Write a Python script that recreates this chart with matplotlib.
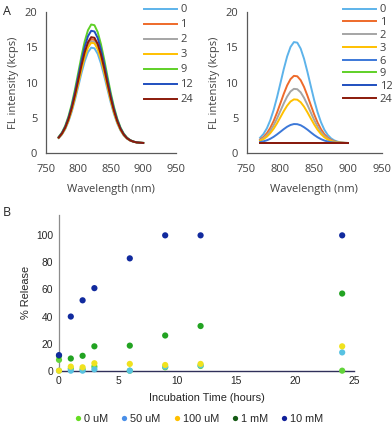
# Fluorescence spectra (A) and % release over time (B)
import matplotlib
matplotlib.use("Agg")
import matplotlib.pyplot as plt
from matplotlib.lines import Line2D

# ---- Panel A data ----
wavelength = [770, 775, 780, 785, 790, 795, 800, 805, 810, 815, 820, 825, 830, 835,
              840, 845, 850, 855, 860, 865, 870, 875, 880, 885, 890, 895, 900]

left_labels = ["0", "1", "2", "3", "9", "12", "24"]
left_values = [
    [2.15, 2.66, 3.41, 4.49, 5.87, 7.55, 9.43, 11.33, 13.02, 14.30, 14.95, 14.86, 14.08, 12.71,
     10.96, 9.05, 7.20, 5.57, 4.24, 3.24, 2.53, 2.07, 1.79, 1.63, 1.53, 1.49, 1.46],
    [2.22, 2.76, 3.59, 4.75, 6.26, 8.09, 10.14, 12.20, 14.05, 15.43, 16.14, 16.05, 15.20, 13.71,
     11.80, 9.72, 7.70, 5.93, 4.49, 3.40, 2.63, 2.13, 1.82, 1.64, 1.54, 1.49, 1.46],
    [2.20, 2.74, 3.55, 4.69, 6.16, 7.95, 9.96, 11.98, 13.79, 15.15, 15.84, 15.76, 14.92, 13.46,
     11.59, 9.56, 7.58, 5.84, 4.43, 3.36, 2.61, 2.11, 1.81, 1.64, 1.54, 1.49, 1.46],
    [2.19, 2.72, 3.52, 4.64, 6.10, 7.86, 9.84, 11.84, 13.62, 14.96, 15.64, 15.56, 14.73, 13.29,
     11.45, 9.44, 7.49, 5.78, 4.39, 3.33, 2.59, 2.11, 1.81, 1.64, 1.54, 1.49, 1.46],
    [2.33, 2.95, 3.89, 5.22, 6.94, 9.03, 11.37, 13.73, 15.84, 17.42, 18.23, 18.13, 17.15, 15.45,
     13.28, 10.90, 8.59, 6.57, 4.92, 3.67, 2.80, 2.23, 1.87, 1.67, 1.55, 1.50, 1.47],
    [2.28, 2.87, 3.76, 5.02, 6.65, 8.63, 10.84, 13.08, 15.07, 16.57, 17.34, 17.24, 16.32, 14.70,
     12.65, 10.40, 8.21, 6.30, 4.74, 3.56, 2.73, 2.18, 1.85, 1.66, 1.55, 1.50, 1.47],
    [2.23, 2.79, 3.63, 4.82, 6.36, 8.22, 10.31, 12.42, 14.30, 15.72, 16.44, 16.35, 15.48, 13.96,
     12.02, 9.89, 7.83, 6.03, 4.55, 3.44, 2.65, 2.14, 1.83, 1.65, 1.54, 1.50, 1.47],
]
left_colors = ["#5DB3EA", "#EE6A2A", "#A5A5A5", "#FFC000", "#5FD027", "#1F4FBF", "#8B1A0A"]

right_labels = ["0", "1", "2", "3", "6", "9", "12", "24"]
right_values = [
    [2.20, 2.73, 3.53, 4.66, 6.13, 7.91, 9.90, 11.91, 13.71, 15.05, 15.74, 15.66, 14.82, 13.38,
     11.52, 9.50, 7.53, 5.81, 4.41, 3.34, 2.60, 2.11, 1.81, 1.64, 1.54, 1.49, 1.46],
    [1.95, 2.30, 2.84, 3.59, 4.56, 5.75, 7.07, 8.41, 9.61, 10.50, 10.96, 10.90, 10.35, 9.39,
     8.15, 6.81, 5.50, 4.35, 3.42, 2.71, 2.21, 1.89, 1.69, 1.57, 1.51, 1.48, 1.46],
    [1.85, 2.14, 2.57, 3.17, 3.96, 4.92, 5.99, 7.06, 8.03, 8.75, 9.12, 9.07, 8.63, 7.85,
     6.86, 5.77, 4.71, 3.79, 3.04, 2.47, 2.07, 1.80, 1.64, 1.55, 1.50, 1.47, 1.46],
    [1.77, 2.00, 2.35, 2.84, 3.47, 4.24, 5.10, 5.97, 6.74, 7.33, 7.63, 7.59, 7.23, 6.60,
     5.80, 4.93, 4.08, 3.33, 2.73, 2.27, 1.95, 1.74, 1.60, 1.53, 1.49, 1.47, 1.46],
    [1.59, 1.69, 1.84, 2.05, 2.33, 2.67, 3.04, 3.42, 3.76, 4.01, 4.14, 4.12, 3.97, 3.69,
     3.35, 2.96, 2.59, 2.27, 2.01, 1.81, 1.67, 1.57, 1.52, 1.49, 1.47, 1.46, 1.45],
]
# the 9, 12 and 24 h spectra are flat lines at the baseline
flat_wavelength = [770, 900]
flat_values = [1.45, 1.45]
right_colors = ["#5DB3EA", "#EE6A2A", "#A5A5A5", "#FFC000", "#3C78D8", "#5FD027", "#1F4FBF", "#8B1A0A"]

# ---- Panel B data ----
hours = [0, 1, 2, 3, 6, 9, 12, 24]
rel_0uM = [8, 1.5, 1, 3, 0, 2.5, 3.5, 0]
rel_50uM = [0, 0, 0, 1, 0, 3, 4, 13.5]
rel_100uM = [0, 3, 2.5, 5.5, 5, 4.2, 5, 18]
rel_1mM = [11, 9, 11, 18, 18.5, 26, 33, 57]
rel_10mM = [11.5, 40, 52, 61, 83, 100, 100, 100]
series_names = ["0 uM", "50 uM", "100 uM", "1 mM", "10 mM"]
point_colors = ["#62D43A", "#58C2E2", "#F0E21E", "#22A322", "#112A9E"]
legend_colors = ["#66DD22", "#4A8FE8", "#FFC000", "#145A14", "#10209A"]

fig = plt.figure(figsize=(3.92, 4.25), dpi=100)

fontA = "Open Sans"
fontB = "Liberation Sans"
sizeA = 8.0


def style_spectrum_axes(ax):
    ax.set_xlim(750, 950)
    ax.set_ylim(0, 20)
    ax.set_xticks([750, 800, 850, 900, 950])
    ax.set_yticks([0, 5, 10, 15, 20])
    for s in ["top", "right"]:
        ax.spines[s].set_visible(False)
    for s in ["left", "bottom"]:
        ax.spines[s].set_color("#595959")
        ax.spines[s].set_linewidth(0.9)
    ax.tick_params(axis="y", length=0, labelsize=sizeA, colors="#404040", pad=6)
    ax.tick_params(axis="x", length=0, labelsize=sizeA, colors="#404040", pad=8)
    for lab in ax.get_xticklabels() + ax.get_yticklabels():
        lab.set_family(fontA)
    ax.set_xlabel("Wavelength (nm)", family=fontA, fontsize=sizeA, color="#404040", labelpad=6)
    ax.set_ylabel("FL intensity (kcps)", family=fontA, fontsize=sizeA, color="#404040", labelpad=4)


# Panel A, left
axL = fig.add_axes([0.1166, 0.6393, 0.3316, 0.3325])
for vals, lab, col in zip(left_values, left_labels, left_colors):
    axL.plot(wavelength, vals, color=col, lw=1.4, label=lab)
style_spectrum_axes(axL)
axL.legend(loc="upper left", bbox_to_anchor=(0.72, 1.085), frameon=False, handlelength=3.0,
           handletextpad=0.3, labelspacing=0.36, borderaxespad=0,
           prop={"family": fontA, "size": sizeA}, labelcolor="#404040")

# Panel A, right
axR = fig.add_axes([0.629, 0.6393, 0.345, 0.3325])
for vals, lab, col in zip(right_values, right_labels[:5], right_colors[:5]):
    axR.plot(wavelength, vals, color=col, lw=1.4, label=lab)
for lab, col in zip(right_labels[5:], right_colors[5:]):
    axR.plot(flat_wavelength, flat_values, color=col, lw=1.4, label=lab)
style_spectrum_axes(axR)
axR.legend(loc="upper left", bbox_to_anchor=(0.68, 1.085), frameon=False, handlelength=3.0,
           handletextpad=0.3, labelspacing=0.16, borderaxespad=0,
           prop={"family": fontA, "size": sizeA}, labelcolor="#404040")

# Panel B
axB = fig.add_axes([0.1505, 0.1278, 0.7525, 0.3662])
for vals, col in zip([rel_0uM, rel_50uM, rel_100uM, rel_1mM, rel_10mM], point_colors):
    axB.scatter(hours, vals, s=20, color=col, edgecolors="none", zorder=3, clip_on=False)
axB.set_xlim(0, 25)
axB.set_ylim(0, 115)
axB.set_xticks([0, 5, 10, 15, 20, 25])
axB.set_yticks([0, 20, 40, 60, 80, 100])
for s in ["top", "right"]:
    axB.spines[s].set_visible(False)
axB.spines["left"].set_color("#8C8C8C")
axB.spines["bottom"].set_color("#30305A")
axB.spines["left"].set_linewidth(0.9)
axB.spines["bottom"].set_linewidth(1.0)
axB.tick_params(length=0, labelsize=7.4, colors="#262626", pad=4)
for lab in axB.get_xticklabels() + axB.get_yticklabels():
    lab.set_family(fontB)
axB.set_xlabel("Incubation Time (hours)", family=fontB, fontsize=7.9, color="#262626", labelpad=5)
axB.set_ylabel("% Release", family=fontB, fontsize=7.9, color="#262626", labelpad=4)

handles = [Line2D([], [], ls="none", marker="o", ms=3.8, color=c, markeredgewidth=0) for c in legend_colors]
fig.legend(handles, series_names, loc="center", bbox_to_anchor=(0.505, 0.014), ncol=5, frameon=False,
           handletextpad=0.05, columnspacing=1.0, handlelength=1.0,
           prop={"family": fontB, "size": 7.8}, labelcolor="#262626")

# panel letters
fig.text(0.008, 0.972, "A", family=fontA, fontsize=9, color="#262626", va="center")
fig.text(0.008, 0.501, "B", family=fontA, fontsize=9, color="#262626", va="center")

fig.savefig("out.png", dpi=100)
